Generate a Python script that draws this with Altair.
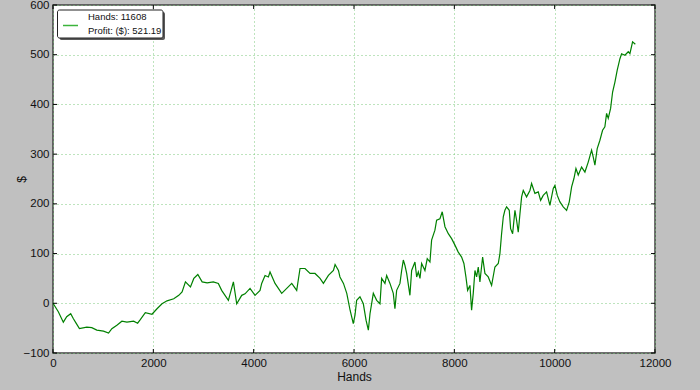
import altair as alt
import pandas as pd

hands = [0, 106, 206, 273, 353, 407, 460, 527, 673, 773, 873, 1007, 1107, 1173, 1273, 1373, 1473,
         1607, 1687, 1740, 1840, 1973, 2073, 2173, 2273, 2407, 2507, 2573, 2640, 2740, 2807, 2887,
         2973, 3073, 3196, 3296, 3362, 3496, 3596, 3662, 3762, 3828, 3928, 4027, 4127, 4160, 4227,
         4293, 4326, 4426, 4559, 4659, 4759, 4858, 4924, 5024, 5124, 5223, 5323, 5390, 5490, 5590,
         5623, 5690, 5720, 5790, 5856, 5922, 5953, 5986, 6020, 6053, 6119, 6186, 6240, 6286, 6319,
         6385, 6452, 6518, 6551, 6617, 6651, 6717, 6783, 6816, 6850, 6916, 6950, 6983, 7016, 7050,
         7115, 7149, 7215, 7249, 7282, 7315, 7348, 7414, 7460, 7514, 7547, 7613, 7647, 7713, 7759,
         7813, 7880, 7946, 8012, 8078, 8145, 8191, 8231, 8265, 8311, 8344, 8377, 8411, 8444, 8477,
         8510, 8564, 8610, 8676, 8743, 8809, 8876, 8909, 8942, 8976, 9008, 9042, 9095, 9122, 9162,
         9208, 9241, 9274, 9308, 9341, 9374, 9440, 9507, 9540, 9606, 9673, 9720, 9772, 9839, 9905,
         9972, 10005, 10052, 10105, 10171, 10238, 10291, 10338, 10384, 10424, 10470, 10537, 10603,
         10669, 10736, 10769, 10802, 10848, 10902, 10955, 11001, 11035, 11068, 11115, 11155, 11201,
         11247, 11301, 11334, 11400, 11467, 11500, 11553, 11608]
profit = [0, -17, -38, -27, -21, -31, -40, -51, -48, -49, -54, -56, -60, -51, -44, -36, -38,
          -36, -40, -33, -19, -22, -11, -1, 5, 9, 16, 23, 43, 33, 50, 58,
          43, 41, 43, 40, 26, 6, 43, -1, 16, 19, 30, 16, 26, 40, 56,
          53, 63, 40, 20, 30, 40, 26, 70, 70, 60, 60, 50, 40, 56, 66,
          78, 66, 53, 40, 20, -14, -27, -41, -24, 6, 13, -1, -34, -54, -21,
          20, 6, -1, 50, 40, 56, 40, 20, -11, 26, 40, 66, 87, 76, 60,
          16, 66, 83, 53, 63, 50, 80, 66, 90, 83, 127, 147, 167, 170, 184,
          154, 140, 130, 117, 103, 93, 80, 53, 26, 36, -14, 20, 66, 53, 73,
          43, 93, 60, 53, 36, 73, 80, 100, 140, 174, 187, 194, 187, 150, 140,
          187, 167, 143, 180, 214, 227, 214, 227, 241, 221, 224, 207, 217, 224, 197,
          231, 237, 217, 204, 194, 187, 204, 234, 251, 271, 258, 274, 264,
          284, 308, 294, 278, 311, 328, 348, 355, 382, 372, 392, 425, 445,
          469, 492, 502, 499, 506, 502, 526, 521.19]

x_ticks = [0, 2000, 4000, 6000, 8000, 10000, 12000]
y_ticks = [-100, 0, 100, 200, 300, 400, 500, 600]
legend_lines = ["Hands: 11608", "Profit: ($): 521.19"]

W, H = 602, 348
FONT = "Liberation Sans"
GREEN = "#008000"

df = pd.DataFrame({"Hands": hands, "Profit": profit})
one = pd.DataFrame({"k": [0]})
xs = alt.Scale(domain=[0, 12000], nice=False, zero=False)
ys = alt.Scale(domain=[-100, 600], nice=False, zero=False)

line = alt.Chart(df).mark_line(color=GREEN, strokeWidth=1.2).encode(
    x=alt.X("Hands:Q", scale=xs, title="Hands",
            axis=alt.Axis(values=x_ticks, format="d", grid=True, ticks=False, domain=False,
                          labelFlush=False, labelPadding=4, titlePadding=3)),
    y=alt.Y("Profit:Q", scale=ys, title="$",
            axis=alt.Axis(values=y_ticks, format="d", grid=True, ticks=False, domain=False,
                          labelFlush=False, labelPadding=4, titlePadding=-5)),
)

ty = pd.DataFrame({"Profit": y_ticks})
tx = pd.DataFrame({"Hands": x_ticks})
tick_left = alt.Chart(ty).mark_rule(color="#000000").encode(
    y=alt.Y("Profit:Q", scale=ys, title="$"), x=alt.value(0), x2=alt.value(4))
tick_right = alt.Chart(ty).mark_rule(color="#000000").encode(
    y=alt.Y("Profit:Q", scale=ys, title="$"), x=alt.value(W - 4), x2=alt.value(W))
tick_bottom = alt.Chart(tx).mark_rule(color="#000000").encode(
    x=alt.X("Hands:Q", scale=xs, title="Hands"), y=alt.value(H - 4), y2=alt.value(H))
tick_top = alt.Chart(tx).mark_rule(color="#000000").encode(
    x=alt.X("Hands:Q", scale=xs, title="Hands"), y=alt.value(0), y2=alt.value(4))

shadow = alt.Chart(one).mark_rect(fill="#5a5a5a", cornerRadius=2).encode(
    x=alt.value(6.5), x2=alt.value(112), y=alt.value(7), y2=alt.value(35))
box = alt.Chart(one).mark_rect(fill="white", stroke="#222222", strokeWidth=1, cornerRadius=2).encode(
    x=alt.value(4.5), x2=alt.value(110), y=alt.value(5), y2=alt.value(33))
sample = alt.Chart(one).mark_rule(color="#3cb43c", strokeWidth=1.5).encode(
    x=alt.value(10), x2=alt.value(25), y=alt.value(20.5))
t1 = alt.Chart(pd.DataFrame({"label": [legend_lines[0]]})).mark_text(
    font=FONT, fontSize=9.5, align="left", baseline="middle", color="#111111").encode(
    text="label:N", x=alt.value(35), y=alt.value(12))
t2 = alt.Chart(pd.DataFrame({"label": [legend_lines[1]]})).mark_text(
    font=FONT, fontSize=9.5, align="left", baseline="middle", color="#111111").encode(
    text="label:N", x=alt.value(35), y=alt.value(25.5))

chart = alt.layer(line, tick_left, tick_right, tick_bottom, tick_top,
                  shadow, box, sample, t1, t2).properties(
    width=W, height=H,
    autosize=alt.AutoSizeParams(type="none"),
    padding={"left": 53, "top": 5, "right": 45, "bottom": 37},
    background="#c0c0c0",
).configure_view(
    fill="white", stroke="#404040", strokeWidth=1.5
).configure_axis(
    gridColor="#7cc87c", gridDash=[1, 3], gridWidth=1, gridOpacity=1,
    labelFont=FONT, labelFontSize=11.5, labelColor="#111111",
    titleFont=FONT, titleFontSize=12, titleFontWeight="normal", titleColor="#111111",
)

chart.save("out.html", embed_options={"renderer": "svg", "actions": False})
